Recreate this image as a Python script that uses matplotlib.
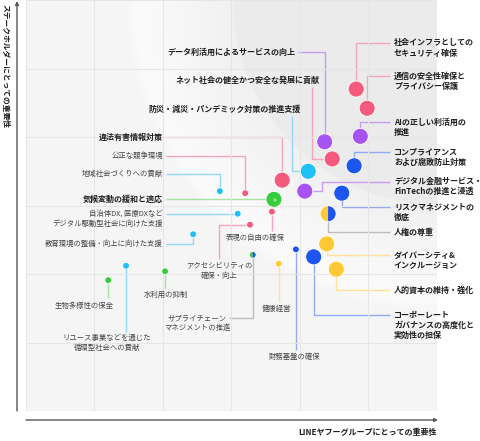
import matplotlib
matplotlib.use('Agg')
import matplotlib.pyplot as plt
from matplotlib.patches import Circle, Wedge
import numpy as np

plt.rcParams['font.family'] = ['Noto Sans CJK JP', 'DejaVu Sans']
plt.rcParams['hatch.linewidth'] = 1.2

# ---------------- data ----------------
topics = [
    "社会インフラとしてのセキュリティ確保",
    "通信の安全性確保とプライバシー保護",
    "AIの正しい利活用の推進",
    "コンプライアンスおよび腐敗防止対策",
    "デジタル金融サービス・FinTechの推進と浸透",
    "リスクマネジメントの徹底",
    "人権の尊重",
    "ダイバーシティ&インクルージョン",
    "人的資本の維持・強化",
    "コーポーレートガバナンスの高度化と実効性の担保",
    "データ利活用によるサービスの向上",
    "ネット社会の健全かつ安全な発展に貢献",
    "防災・減災・パンデミック対策の推進支援",
    "違法有害情報対策",
    "公正な競争環境",
    "地域社会づくりへの貢献",
    "気候変動の緩和と適応",
    "自治体DX, 医療DXなどデジタル駆動型社会に向けた支援",
    "表現の自由の確保",
    "アクセシビリティの確保・向上",
    "サプライチェーンマネジメントの推進",
    "健康経営",
    "財務基盤の確保",
    "教育環境の整備・向上に向けた支援",
    "リユース事業などを通じた循環型社会への貢献",
    "水利用の抑制",
    "生物多様性の保全",
]
# importance for LINEヤフーグループ (x) and stakeholders (y), grid units 0-6
group_importance = [4.82, 4.98, 4.88, 4.79, 4.07, 4.61, 4.41, 4.39, 4.53, 4.20,
                    4.36, 4.47, 4.12, 3.74, 3.20, 2.83, 3.62, 3.09, 3.59, 3.27,
                    3.31, 3.69, 3.94, 2.44, 1.46, 2.03, 1.20]
stakeholder_importance = [4.70, 4.42, 4.01, 3.58, 3.21, 3.18, 2.88, 2.44, 2.07, 2.25,
                          3.93, 3.68, 3.50, 3.37, 3.18, 3.21, 3.09, 2.88, 2.91, 2.72,
                          2.28, 2.15, 2.36, 2.58, 2.12, 2.04, 1.91]
material = [True] * 14 + [False, False, True] + [False] * 10
theme = ["pink", "pink", "purple", "blue", "purple", "blue", ("yellow", "blue"),
         "yellow", "yellow", "blue", "purple", "pink", "cyan", "pink", "pink",
         "cyan", "green", "cyan", "pink", "pink", ("green", "blue"), "yellow",
         "blue", "cyan", "cyan", "green", "green"]

x_label = "LINEヤフーグループにとっての重要性"
y_label = "ステークホルダーにとっての重要性"

# ---------------- style ----------------
FILL = {"pink": "#f45a7c", "purple": "#a653f2", "cyan": "#1fc0f7",
        "blue": "#1d55ef", "green": "#38cc3c", "yellow": "#ffc935"}
LINE = {"pink": "#f5a7b9", "purple": "#c89cf4", "cyan": "#91d9f7",
        "blue": "#93a9f1", "green": "#a3e3a3", "yellow": "#ffe19b",
        "gray": "#bdbdbd"}

W, H = 481, 441
PX0, PY0, CELL = 26, 411, 68.5


def X(px):
    return (px - PX0) / CELL


def Y(py):
    return (PY0 - py) / CELL


# label layout (pixel positions), routes of leader lines
R = 394
layout = [
    (["社会インフラとしての", "セキュリティ確保"], R, 43, 'left', True, [('v', 43), ('h', 390)]),
    (["通信の安全性確保と", "プライバシー保護"], R, 76, 'left', True, [('v', 76), ('h', 390)]),
    (["AIの正しい利活用の", "推進"], R, 122, 'left', True, [('v', 122), ('h', 390)]),
    (["コンプライアンス", "および腐敗防止対策"], R, 152, 'left', True, [('v', 152), ('h', 390)]),
    (["デジタル金融サービス・", "FinTechの推進と浸透"], R, 181, 'left', True, [('h', 322), ('v', 182), ('h', 390)]),
    (["リスクマネジメントの", "徹底"], R, 207, 'left', True, [('v', 207), ('h', 390)]),
    (["人権の尊重"], R, 232, 'left', True, [('v', 232), ('h', 390)]),
    (["ダイバーシティ&", "インクルージョン"], R, 255, 'left', True, [('v', 255), ('h', 390)]),
    (["人的資本の維持・強化"], R, 290, 'left', True, [('v', 290), ('h', 390)]),
    (["コーポーレート", "ガバナンスの高度化と", "実効性の担保"], R, 315, 'left', True, [('v', 315), ('h', 390)]),
    (["データ利活用によるサービスの向上"], 295, 52, 'right', True, [('v', 52), ('h', 298)]),
    (["ネット社会の健全かつ安全な発展に貢献"], 320, 80, 'right', True, [('h', 312), ('v', 87)]),
    (["防災・減災・パンデミック対策の推進支援"], 301, 109, 'right', True, [('h', 292), ('v', 116)]),
    (["違法有害情報対策"], 163, 137, 'right', True, [('v', 137), ('h', 166)]),
    (["公正な競争環境"], 163, 156, 'right', False, [('v', 156), ('h', 166)]),
    (["地域社会づくりへの貢献"], 163, 174, 'right', False, [('v', 174), ('h', 166)]),
    (["気候変動の緩和と適応"], 163, 199, 'right', True, [('h', 166)]),
    (["自治体DX, 医療DXなど", "デジタル駆動型社会に向けた支援"], 163, 214, 'right', False, [('h', 166)]),
    (["表現の自由の確保"], 255, 238, 'center', False, [('v', 231)]),
    (["アクセシビリティの", "確保・向上"], 219, 266, 'center', False, [('h', 219), ('v', 259)]),
    (["サプライチェーン", "マネジメントの推進"], 197, 318, 'center', False, [('v', 318), ('h', 229)]),
    (["健康経営"], 277, 309, 'center', False, [('v', 302)]),
    (["財務基盤の確保"], 295, 357, 'center', False, [('v', 350)]),
    (["教育環境の整備・向上に向けた支援"], 163, 244, 'right', False, [('v', 244), ('h', 166)]),
    (["リユース事業などを通じた", "循環型社会への貢献"], 107, 338, 'center', False, [('v', 332)]),
    (["水利用の抑制"], 166, 295, 'center', False, [('v', 289)]),
    (["生物多様性の保全"], 84, 306, 'center', False, [('v', 298)]),
]

fig = plt.figure(figsize=(W / 100, H / 100), dpi=100)
fig.patch.set_facecolor('white')
ax = fig.add_axes([PX0 / W, (H - PY0) / H, 411 / W, 411 / H])
ax.set_xlim(0, 6)
ax.set_ylim(0, 6)
for s in ax.spines.values():
    s.set_visible(False)
ax.set_xticks(range(7))
ax.set_yticks(range(7))
ax.tick_params(length=0, labelbottom=False, labelleft=False)

# background radial shading from the top-right corner
n = 411
jj, ii = np.meshgrid(np.arange(n) + 0.5, np.arange(n) + 0.5)
r = np.hypot(n - jj, ii)
v = np.interp(r, [0, 203, 205, 290, 300, 313], [235, 236, 241, 250, 251, 245]) / 255.0
img = np.dstack([v, v, v])
ax.imshow(img, extent=[0, 6, 0, 6], origin='upper', zorder=0, aspect='auto', interpolation='bilinear')
ax.grid(True, color='#e6e6e6', lw=0.8, zorder=1)
ax.set_axisbelow(False)

R_BIG = 8.0 / CELL
R_SMALL = 3.4 / CELL

for k in range(len(topics)):
    bx, by = group_importance[k], stakeholder_importance[k]
    lines, tx, ty, ha, bold, route = layout[k]
    th = theme[k]
    lc = LINE['gray'] if isinstance(th, tuple) else LINE[th]
    xs, ys = [bx], [by]
    cx, cy = bx, by
    for d, val in route:
        if d == 'h':
            cx = X(val)
        else:
            cy = Y(val)
        xs.append(cx)
        ys.append(cy)
    ax.plot(xs, ys, color=lc, lw=1.0, zorder=2, clip_on=False, solid_capstyle='butt')
    rad = R_BIG if material[k] else R_SMALL
    if isinstance(th, tuple):
        ax.add_patch(Wedge((bx, by), rad, 90, 270, facecolor=FILL[th[0]], edgecolor='none', zorder=4))
        ax.add_patch(Wedge((bx, by), rad, -90, 90, facecolor=FILL[th[1]], edgecolor='none', zorder=4))
        ax.add_patch(Circle((bx, by), rad, facecolor='none', edgecolor='white', lw=0.6, zorder=5))
    elif th == 'green' and material[k]:
        ax.add_patch(Circle((bx, by), rad, facecolor=FILL[th], edgecolor='none', zorder=4))
        ax.add_patch(Circle((bx, by), rad * 0.75, facecolor='none', edgecolor='#8fe58f',
                            hatch='..', lw=0, zorder=5))
        ax.add_patch(Circle((bx, by), rad, facecolor='none', edgecolor='white', lw=0.6, zorder=5))
    else:
        ax.add_patch(Circle((bx, by), rad, facecolor=FILL[th], edgecolor='white', lw=0.6, zorder=4))
    for i, ln in enumerate(lines):
        ax.text(X(tx), Y(ty + i * 10.3), ln, ha=ha, va='center',
                fontsize=5.8 if bold else 5.3,
                fontweight='bold' if bold else 'normal',
                color='#1e1e1e' if bold else '#444444',
                zorder=6, clip_on=False)

# axis arrows
arrow = dict(arrowstyle='-|>', mutation_scale=5, lw=1.0, color='#555555', shrinkA=0, shrinkB=0)
fig.patches  # noqa
ax.annotate('', xy=(17, H - 1), xytext=(17, H - 411), xycoords='figure pixels',
            textcoords='figure pixels', arrowprops=arrow, annotation_clip=False)
ax.annotate('', xy=(438, H - 420), xytext=(26, H - 420), xycoords='figure pixels',
            textcoords='figure pixels', arrowprops=arrow, annotation_clip=False)

fig.text(5 / W, (H - 66) / H, y_label, rotation=-90, ha='center', va='center',
         fontsize=5.6, fontweight='bold', color='#1e1e1e')
fig.text(437 / W, (H - 433) / H, x_label, ha='right', va='center',
         fontsize=5.8, fontweight='bold', color='#1e1e1e')

fig.savefig('out.png', dpi=100, facecolor='white')
